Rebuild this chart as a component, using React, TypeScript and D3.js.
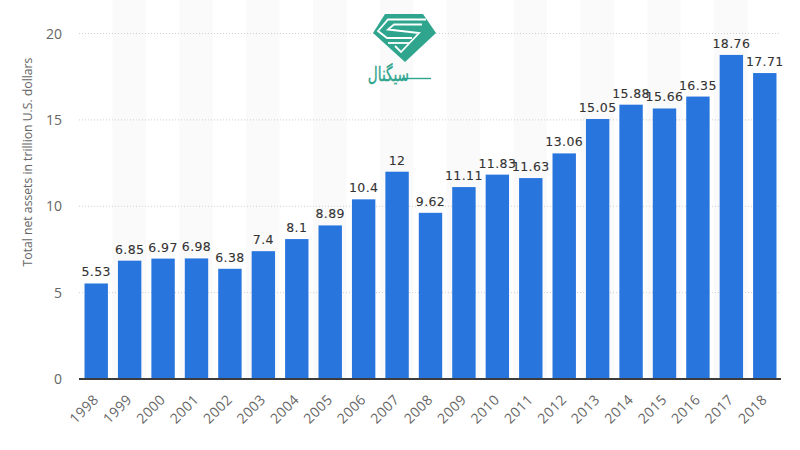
import React from "react";
import * as d3 from "d3";

const years = ["1998","1999","2000","2001","2002","2003","2004","2005","2006","2007","2008","2009","2010","2011","2012","2013","2014","2015","2016","2017","2018"];
const assets = [5.53,6.85,6.97,6.98,6.38,7.4,8.1,8.89,10.4,12,9.62,11.11,11.83,11.63,13.06,15.05,15.88,15.66,16.35,18.76,17.71];
const yTicks = [0,5,10,15,20];

const width = 800;
const height = 450;
const margin = { top: 33.5, right: 19, bottom: 71, left: 79 };

const x = d3.scaleBand().domain(years).range([margin.left, width - margin.right]).paddingInner(0.3).paddingOuter(0.15);
const band = d3.scaleBand().domain(years).range([margin.left, width - margin.right]);
const y = d3.scaleLinear().domain([0, 20]).range([height - margin.bottom, margin.top]);

const App: React.FC = () => {
  return (
    <svg width={width} height={height} style={{ position: "absolute", left: 0, top: 0, background: "#fff" }}>
      {/* alternating stripes */}
      {years.map((yr, i) => i % 2 === 1 ? (
        <rect key={yr} x={band(yr)!} y={0} width={band.bandwidth()} height={y(0)} fill="#fafafa" />
      ) : null)}

      {/* grid */}
      {yTicks.filter((t) => t > 0).map((t) => (
        <line key={t} x1={margin.left} x2={width - margin.right} y1={y(t)} y2={y(t)} stroke="#cfcfcf" strokeWidth={1} strokeDasharray="1,2" />
      ))}

      {/* bars */}
      {years.map((yr, i) => (
        <rect key={yr} x={x(yr)! + 0.5} y={y(assets[i])} width={x.bandwidth()} height={y(0) - y(assets[i])} fill="#2875de" />
      ))}

      {/* baseline */}
      <line x1={margin.left} x2={width - margin.right} y1={y(0)} y2={y(0)} stroke="#3c3c3c" strokeWidth={2} />

      {/* value labels */}
      {years.map((yr, i) => (
        <text key={yr} x={x(yr)! + x.bandwidth() / 2 + 0.5} y={y(assets[i]) - 7} textAnchor="middle" fontFamily="DejaVu Sans" fontSize={12.5} fill="#333" letterSpacing={0.4} stroke="#333" strokeWidth={0.1}>
          {assets[i]}
        </text>
      ))}

      {/* y ticks */}
      {yTicks.map((t) => (
        <text key={t} x={62} y={y(t) + 5} textAnchor="end" fontFamily="Open Sans" fontSize={14} fill="#666">
          {t}
        </text>
      ))}

      {/* x ticks */}
      {years.map((yr) => {
        const cx = band(yr)! + band.bandwidth() / 2;
        return (
          <text key={yr} transform={`translate(${cx + 1},${y(0) + 19}) rotate(-45)`} textAnchor="end" dominantBaseline="middle" fontFamily="Open Sans" fontSize={14} letterSpacing={0.4} fill="#666">
            {yr}
          </text>
        );
      })}

      {/* y title */}
      <text transform="translate(29,162) rotate(-90)" textAnchor="middle" dominantBaseline="middle" fontFamily="Open Sans" fontSize={12.2} fill="#666">
        Total net assets in trillion U.S. dollars
      </text>

      {/* logo */}
      <g>
        <path d="M385,14 L423,14 L436,33 L405,62 L373,33 Z" fill="#2fa58e" />
        <path d="M426,19.5 L388,19.5 L378,31 L387,38 L412,38" fill="none" stroke="#fff" strokeWidth={1.8} />
        <path d="M422,24.5 L394,24.5 L388,29.5 L419,33 L401,52 L395,46" fill="none" stroke="#fff" strokeWidth={1.8} />
        <path d="M388,43 L410,43" fill="none" stroke="#fff" strokeWidth={1.8} />
        <text transform="translate(409,81) scale(0.68,1)" textAnchor="start" fontFamily="DejaVu Sans" fontSize={20} fill="#2fa58e" stroke="#2fa58e" strokeWidth={0.4} direction="rtl">
          {"سیگنال"}
        </text>
        <line x1={402} x2={431} y1={78.5} y2={78.5} stroke="#2fa58e" strokeWidth={1.4} />
      </g>
    </svg>
  );
};

export default App;
